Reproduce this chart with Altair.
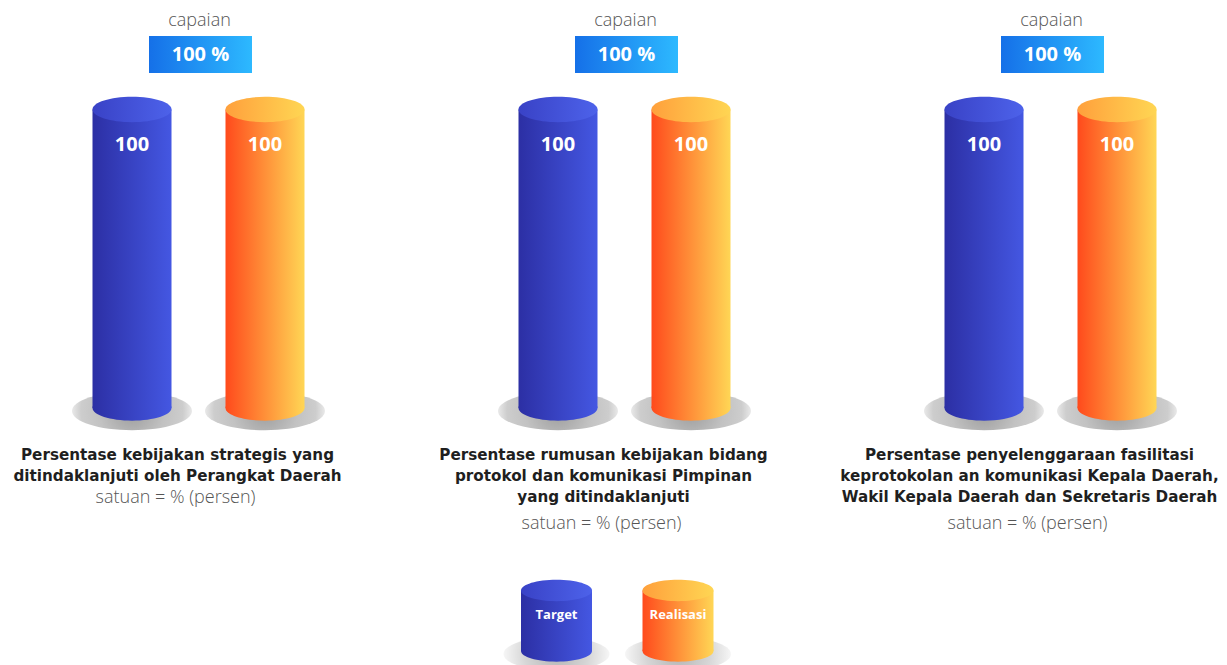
import altair as alt
import pandas as pd

# ---------------- data ----------------
panels = ["P1", "P2", "P3"]
titles = [
    "Persentase kebijakan strategis yang\nditindaklanjuti oleh Perangkat Daerah",
    "Persentase rumusan kebijakan bidang\nprotokol dan komunikasi Pimpinan\nyang ditindaklanjuti",
    "Persentase penyelenggaraan fasilitasi\nkeprotokolan an komunikasi Kepala Daerah,\nWakil Kepala Daerah dan Sekretaris Daerah",
]
units = ["satuan = % (persen)", "satuan = % (persen)", "satuan = % (persen)"]
capaian = [100, 100, 100]
series = ["Target", "Realisasi"]
target = [100, 100, 100]
realisasi = [100, 100, 100]

pdf = pd.DataFrame({
    "panel": panels,
    "title": titles,
    "unit": units,
    "capaian": capaian,
    "nlines": [t.count("\n") + 1 for t in titles],
})
rows = []
for p, t, r in zip(panels, target, realisasi):
    rows.append({"panel": p, "series": "Target", "value": t})
    rows.append({"panel": p, "series": "Realisasi", "value": r})
vdf = pd.DataFrame(rows)
ldf = pd.DataFrame({"series": series})

# ---------------- styles ----------------
def lin(c0, c1):
    return alt.LinearGradient(gradient="linear", x1=0, y1=0, x2=1, y2=0,
                              stops=[alt.GradientStop(color=c0, offset=0),
                                     alt.GradientStop(color=c1, offset=1)])

def rad(stops):
    return alt.RadialGradient(gradient="radial", x1=0.5, y1=0.5, r1=0,
                              x2=0.5, y2=0.5, r2=0.5,
                              stops=[alt.GradientStop(color=c, offset=o) for o, c in stops])

SIDE = {"Target": lin("#2c2fa4", "#4457e2"), "Realisasi": lin("#ff4a1c", "#ffd655")}
TOP = {"Target": lin("#3942c6", "#4d62ea"), "Realisasi": lin("#ffa03c", "#ffd653")}
BASE = rad([(0, "#9c9c9c"), (0.55, "#c2c2c2"), (0.85, "#cdcdcd"), (1, "#e9e9e9")])
BASE_L = rad([(0, "#b4b4b4"), (0.6, "#d6d6d6"), (1, "#f6f6f6")])
BADGE = lin("#1570e8", "#2db9ff")


def ellipse(k):
    c = 0.5523
    return (f"M-1,0 C-1,{-c*k:.4f} {-c:.4f},{-k:.4f} 0,{-k:.4f} "
            f"C{c:.4f},{-k:.4f} 1,{-c*k:.4f} 1,0 "
            f"C1,{c*k:.4f} {c:.4f},{k:.4f} 0,{k:.4f} "
            f"C{-c:.4f},{k:.4f} -1,{c*k:.4f} -1,0 Z")


def rect(k):
    return f"M-1,{-k} L1,{-k} L1,{k} L-1,{k} Z"


TITLE_FONT = "DejaVu Sans"
NUM_FONT = "Open Sans"
LIGHT_FONT = "Open Sans"

# ---------------- main chart ----------------
X = alt.X("panel:N", axis=None,
          scale=alt.Scale(domain=panels, range=[-22.5, 1255.5], paddingInner=0, paddingOuter=0))
XO = alt.XOffset("series:N",
                 scale=alt.Scale(domain=series, range=[107, 319], paddingInner=0.406, paddingOuter=0))
YS = alt.Scale(domain=[0, 100], range=[400, 101.5], nice=False, zero=True)
Y = alt.Y("value:Q", axis=None, scale=YS)
Y0 = alt.Y(datum=0, axis=None, scale=YS)

vbase = alt.Chart(vdf)
layers = []
for s in series:
    b = vbase.transform_filter(alt.datum.series == s)
    layers.append(b.mark_point(shape=ellipse(0.32), size=120 ** 2, filled=True, fill=BASE,
                               opacity=1, strokeWidth=0, yOffset=3).encode(x=X, xOffset=XO, y=Y0))
for s in series:
    b = vbase.transform_filter(alt.datum.series == s)
    layers.append(b.mark_point(shape=ellipse(0.32), size=79 ** 2, filled=True, fill=SIDE[s],
                               opacity=1, strokeWidth=0).encode(x=X, xOffset=XO, y=Y0))
    layers.append(b.mark_bar(fill=SIDE[s], opacity=1).encode(x=X, xOffset=XO, y=Y))
    layers.append(b.mark_point(shape=ellipse(0.32), size=79 ** 2, filled=True, fill=TOP[s],
                               opacity=1, strokeWidth=0).encode(x=X, xOffset=XO, y=Y))
    layers.append(b.mark_text(font=NUM_FONT, fontWeight="bold", fontSize=20, color="white",
                              dy=35.5, baseline="middle")
                  .encode(x=X, xOffset=XO, y=Y, text=alt.Text("value:Q", format="d")))

pbase = alt.Chart(pdf)
layers.append(pbase.mark_text(text="capaian", font=LIGHT_FONT, fontWeight=300, fontSize=18,
                              color="#555555", baseline="middle", dx=1)
              .encode(x=X, y=alt.value(13)))
layers.append(pbase.mark_point(shape=rect(0.359), size=103 ** 2, filled=True, fill=BADGE,
                               opacity=1, strokeWidth=0, xOffset=2)
              .encode(x=X, y=alt.value(46.5)))
layers.append(pbase.transform_calculate(lbl="datum.capaian + ' %'")
              .mark_text(font=NUM_FONT, fontWeight="bold", fontSize=20, color="white",
                         baseline="middle", dx=2)
              .encode(x=X, y=alt.value(47), text="lbl:N"))
layers.append(pbase.mark_text(font=TITLE_FONT, fontWeight="bold", fontSize=15.2, color="#1f1f1f",
                              baseline="middle", lineBreak="\n", lineHeight=21, dx=-21)
              .encode(x=X, y=alt.value(447), text="title:N"))
layers.append(pbase.transform_filter("datum.nlines == 2")
              .mark_text(font=LIGHT_FONT, fontWeight=300, fontSize=18, color="#555555",
                         baseline="middle", dx=-23)
              .encode(x=X, text="unit:N", y=alt.value(490)))
layers.append(pbase.transform_filter("datum.nlines == 3")
              .mark_text(font=LIGHT_FONT, fontWeight=300, fontSize=18, color="#555555",
                         baseline="middle", dx=-23)
              .encode(x=X, text="unit:N", y=alt.value(516)))

main = alt.layer(*layers).properties(width=1211, height=560)

# ---------------- legend ----------------
LX = alt.X("series:N", axis=None,
           scale=alt.Scale(domain=series, range=[513, 705.5], paddingInner=0.4156, paddingOuter=0))
lbase = alt.Chart(ldf)
llayers = []
for s in series:
    b = lbase.transform_filter(alt.datum.series == s)
    llayers.append(b.mark_point(shape=ellipse(0.32), size=106 ** 2, filled=True, fill=BASE_L,
                                opacity=1, strokeWidth=0).encode(x=LX, y=alt.value(86)))
for s in series:
    b = lbase.transform_filter(alt.datum.series == s)
    llayers.append(b.mark_point(shape=ellipse(0.3), size=71 ** 2, filled=True, fill=SIDE[s],
                                opacity=1, strokeWidth=0).encode(x=LX, y=alt.value(83)))
    llayers.append(b.mark_bar(fill=SIDE[s], opacity=1)
                   .encode(x=LX, y=alt.value(22.5), y2=alt.value(83)))
    llayers.append(b.mark_point(shape=ellipse(0.3), size=71 ** 2, filled=True, fill=TOP[s],
                                opacity=1, strokeWidth=0).encode(x=LX, y=alt.value(22.5)))
    llayers.append(b.mark_text(font=NUM_FONT, fontWeight="bold", fontSize=13, color="white",
                               baseline="middle")
                   .encode(x=LX, y=alt.value(47), text="series:N"))

legend = alt.layer(*llayers).properties(width=1211, height=97)

chart = (alt.vconcat(main, legend, spacing=0)
         .properties(padding=0)
         .configure_view(stroke=None)
         .configure_concat(spacing=0))

chart.save("out.html", embed_options={"renderer": "svg", "actions": False})
